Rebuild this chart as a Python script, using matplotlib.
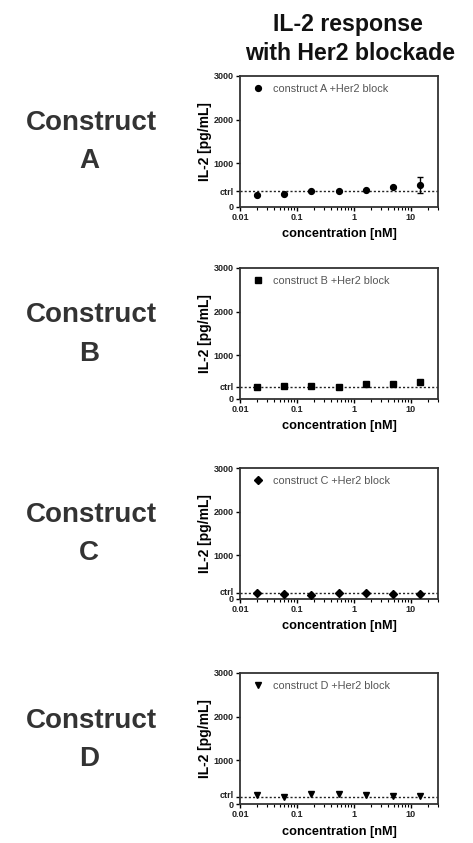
import matplotlib
matplotlib.use("Agg")
import matplotlib.pyplot as plt
from matplotlib.ticker import LogLocator, NullFormatter, FixedLocator
from matplotlib.transforms import ScaledTranslation

plt.rcParams['font.family'] = ['Liberation Sans', 'DejaVu Sans']

conc = [0.02, 0.06, 0.18, 0.54, 1.62, 4.86, 14.6]
constructs = ["A", "B", "C", "D"]
values = {
    "A": [283, 306, 367, 367, 383, 459, 497],
    "B": [283, 291, 306, 283, 344, 344, 383],
    "C": [145, 107, 92, 138, 138, 115, 122],
    "D": [206, 168, 229, 229, 198, 183, 191],
}
errors = {
    "A": [0, 0, 0, 0, 0, 0, 180],
    "B": [0, 40, 0, 0, 0, 0, 0],
    "C": [0, 0, 0, 0, 0, 0, 0],
    "D": [0, 0, 0, 0, 0, 0, 0],
}
ctrl = {"A": 360, "B": 283, "C": 130, "D": 168}
markers = {"A": "o", "B": "s", "C": "D", "D": "v"}
yticks = [0, 1000, 2000, 3000]
xticks = [0.01, 0.1, 1, 10]
xticklabels = ["0.01", "0.1", "1", "10"]

W, H = 473, 843
fig = plt.figure(figsize=(W / 100, H / 100), dpi=100)

fig.text(348 / W, 1 - 25 / H, "IL-2 response", ha="center", va="center",
         fontsize=16.7, fontweight="bold", color="#111111")
fig.text(350 / W, 1 - 53 / H, "with Her2 blockade", ha="center", va="center",
         fontsize=16.7, fontweight="bold", color="#111111")

tops = [76, 268, 468, 673]
bottoms = [207, 399, 599, 804]
left_px, right_px = 240, 438

for c, top, bot in zip(constructs, tops, bottoms):
    ax = fig.add_axes([left_px / W, 1 - bot / H, (right_px - left_px) / W, (bot - top) / H])
    ax.set_xscale("log")
    ax.set_xlim(0.01, 30)
    ax.set_ylim(0, 3000)
    ax.axhline(ctrl[c], color="#222222", ls=(0, (1.5, 1.5)), lw=1.0, zorder=1)
    ms = 4.2 if markers[c] != "D" else 3.6
    if any(errors[c]):
        ax.errorbar(conc, values[c], yerr=errors[c], fmt="none", ecolor="black",
                    capsize=2.5, elinewidth=1, capthick=1, zorder=2)
    ax.plot(conc, values[c], ls="none", marker=markers[c], color="black", ms=ms,
            zorder=3, label="construct %s +Her2 block" % c)
    leg = ax.legend(loc="upper left", bbox_to_anchor=(0.044, 0.975), frameon=False,
                    fontsize=7.8, handletextpad=0.8, borderaxespad=0.0,
                    handlelength=1.0, numpoints=1)
    for t in leg.get_texts():
        t.set_color("#555555")
    ax.set_yticks(yticks + [ctrl[c]])
    ax.set_yticklabels(["0", "1000", "2000", "3000", "ctrl"])
    ax.xaxis.set_major_locator(FixedLocator(xticks))
    ax.set_xticklabels(xticklabels)
    ax.xaxis.set_minor_locator(LogLocator(base=10, subs=range(2, 10), numticks=20))
    ax.xaxis.set_minor_formatter(NullFormatter())
    ax.tick_params(axis="both", which="major", direction="out", length=3, width=1,
                   labelsize=6.5, pad=1.5)
    ax.tick_params(axis="x", which="minor", direction="out", length=2, width=0.8)
    for lab in ax.get_xticklabels() + ax.get_yticklabels():
        lab.set_fontweight("bold")
        lab.set_color("#222222")
    # lift the "ctrl" label slightly when it sits close to 0
    if ctrl[c] < 250:
        ylabs = ax.get_yticklabels()
        ylabs[-1].set_transform(ylabs[-1].get_transform() +
                                ScaledTranslation(0, 2 / 100, fig.dpi_scale_trans))
    for sp in ax.spines.values():
        sp.set_linewidth(1.3)
        sp.set_color("#333333")
    ax.set_ylabel("IL-2 [pg/mL]", fontsize=10, fontweight="bold", labelpad=1)
    ax.set_xlabel("concentration [nM]", fontsize=9.2, fontweight="bold", labelpad=4.5)

    cy = (top + bot) / 2
    fig.text(91 / W, 1 - (cy - 18) / H, "Construct", ha="center", va="center",
             fontsize=20, fontweight="bold", color="#333333")
    fig.text(89 / W, 1 - (cy + 20) / H, c, ha="center", va="center",
             fontsize=20, fontweight="bold", color="#333333")

fig.savefig("out.png", dpi=100)
